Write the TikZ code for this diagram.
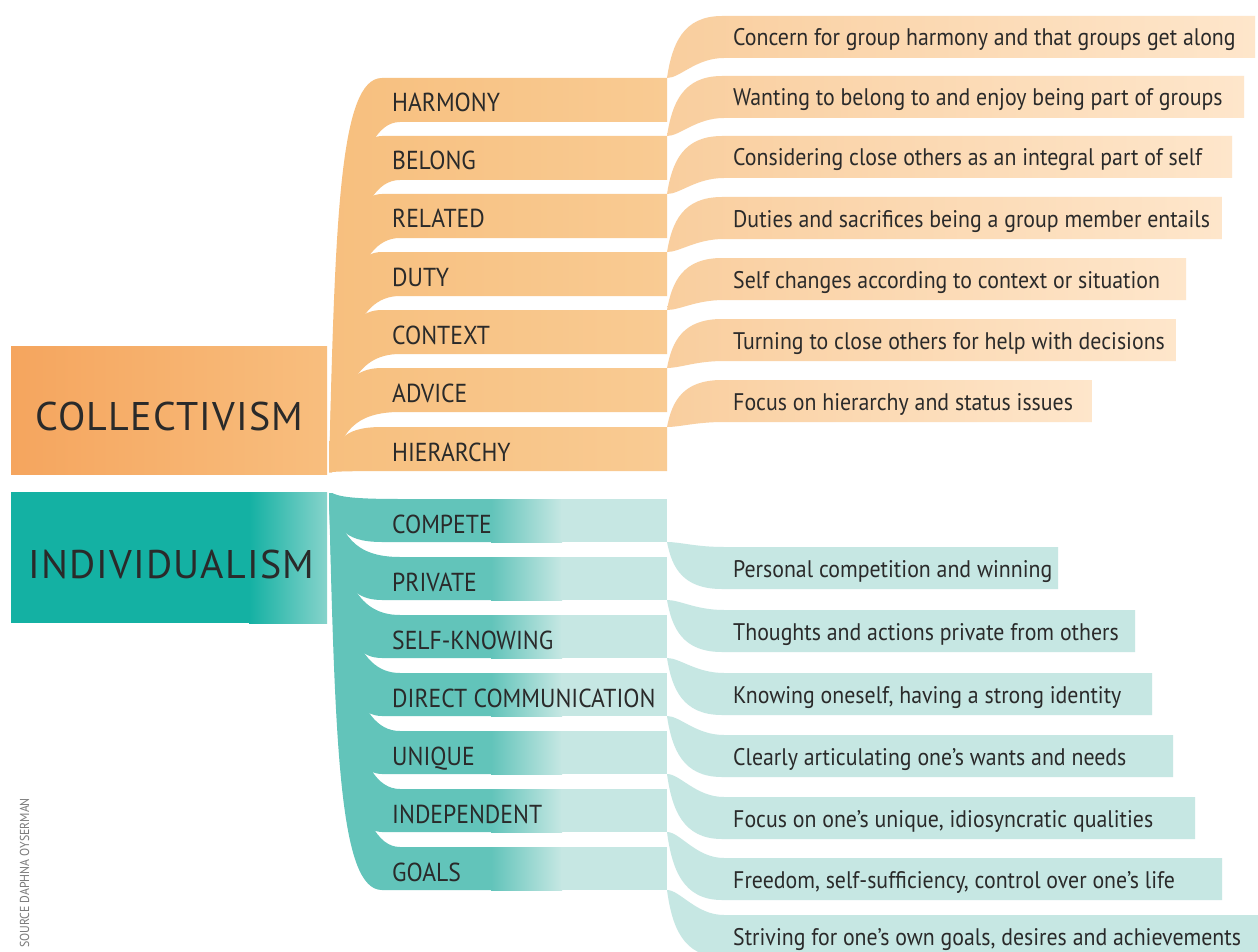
\documentclass[tikz,border=0pt]{standalone}
\usepackage{fontspec}
\setmainfont{PT Sans}[FakeStretch=0.91]
\newfontfamily\headfont{PT Sans}[LetterSpace=3]
\begin{document}
\begin{tikzpicture}[x=1pt,y=-1pt]
% colours
\definecolor{txt}{HTML}{2A2A2A}
\definecolor{srcgray}{HTML}{7A7A7A}
\definecolor{orMainL}{HTML}{F5A55E}
\definecolor{orMainR}{HTML}{F8BE7E}
\definecolor{orMidL}{HTML}{F7BF7E}
\definecolor{orMidR}{HTML}{F9CB93}
\definecolor{orDescL}{HTML}{F9CE9E}
\definecolor{orDescR}{HTML}{FEE6CB}
\definecolor{tlMainL}{HTML}{14B1A3}
\definecolor{tlMainR}{HTML}{86D3CB}
\definecolor{tlMid}{HTML}{62C4BA}
\definecolor{tlLight}{HTML}{C6E7E3}
\definecolor{tlDesc}{HTML}{C6E7E3}
\tikzset{
  mainlabel/.style={anchor=base west, inner sep=0pt, text=txt, font=\headfont\fontsize{40}{40}\selectfont},
  midlabel/.style={anchor=base west, inner sep=0pt, text=txt, font=\fontsize{26}{26}\selectfont},
  desclabel/.style={anchor=base west, inner sep=0pt, text=txt, font=\fontsize{24}{24}\selectfont},
  srclabel/.style={anchor=base, inner sep=0pt, text=srcgray, rotate=90, font=\fontsize{13}{13}\selectfont},
}
\useasboundingbox (0,0) rectangle (1258,952);
\fill[white] (0,0) rectangle (1258,952);

% ---------- collectivism branch: ribbons fan upward from the box corner ----------
% #1 band top, #2 description centre, #3 description right end, #4 id, #5 label, #6 description
\newcommand\orrow[6]{%
  \pgfmathsetmacro\bt{#1+44}%
  \pgfmathsetmacro\dt{#2-21}%
  \pgfmathsetmacro\db{#2+21}%
  \pgfmathsetmacro\ca{#1+0.35*(472-#1)}%
  \pgfmathsetmacro\cb{\bt+0.35*(472-\bt)}%
  \pgfmathsetmacro\cc{\dt+0.45*(#1-\dt)}%
  \shade[left color=orDescL, right color=orDescR]
    (667,#1) .. controls (672,\cc) and (683,\dt) .. (722,\dt) -- (#3,\dt)
    -- (#3,\db) -- (724,\db) .. controls (696,\db) and (680,#1) .. (667,#1) -- cycle;
  \shade[left color=orMidL, right color=orMidR]
    (329,472) .. controls (335,\ca) and (340,#1) .. (382,#1) -- (667,#1)
    -- (667,\bt) -- (400,\bt) .. controls (354,\bt) and (340,\cb) .. (332,472) -- cycle;
  \node[midlabel] (m#4) at (392,#1+34) {#5};
  \node[desclabel] (d#4) at (733,#2+9) {#6};
}

% ---------- individualism branch: ribbons fan downward from the box corner ----------
\newcommand\tlrow[6]{%
  \pgfmathsetmacro\bt{#1+43}%
  \pgfmathsetmacro\dt{#2-21}%
  \pgfmathsetmacro\db{#2+21}%
  \pgfmathsetmacro\ca{#1-0.35*(#1-493)}%
  \pgfmathsetmacro\cb{\bt-0.35*(\bt-493)}%
  \pgfmathsetmacro\cc{\db-0.45*(\db-\bt)}%
  \fill[tlDesc]
    (667,\bt) .. controls (680,\bt) and (696,\dt) .. (724,\dt) -- (#3,\dt)
    -- (#3,\db) -- (722,\db) .. controls (683,\db) and (672,\cc) .. (667,\bt) -- cycle;
  \fill[tlMid]
    (329,493) .. controls (335,\cb) and (340,\bt) .. (382,\bt) -- (492,\bt)
    -- (492,#1) -- (400,#1) .. controls (354,#1) and (340,\ca) .. (332,493) -- cycle;
  \shade[left color=tlMid, right color=tlLight] (491,#1) rectangle (562,\bt);
  \fill[tlLight] (561,#1) rectangle (667,\bt);
  \node[midlabel] (m#4) at (392,#1+34) {#5};
  \node[desclabel] (d#4) at (733,#2+9) {#6};
}

% main boxes
\shade[left color=orMainL, right color=orMainR] (11,346) rectangle (327,474);
\node[mainlabel] (coll) at (35,430) {COLLECTIVISM};
\fill[tlMainL] (11,492) rectangle (250,623);
\shade[left color=tlMainL, right color=tlMainR] (249,492) rectangle (327,623);
\node[mainlabel] (indiv) at (28,578) {INDIVIDUALISM};

\orrow{78}{37}{1255}{harmony}{HARMONY}{Concern for group harmony and that groups get along}
\orrow{136}{97}{1244}{belong}{BELONG}{Wanting to belong to and enjoy being part of groups}
\orrow{194}{157}{1232}{related}{RELATED}{Considering close others as an integral part of self}
\orrow{252}{218}{1222}{duty}{DUTY}{Duties and sacrifices being a group member entails}
\orrow{310}{279}{1186}{context}{CONTEXT}{Self changes according to context or situation}
\orrow{368}{340}{1176}{advice}{ADVICE}{Turning to close others for help with decisions}
\orrow{427}{401}{1092}{hierarchy}{HIERARCHY}{Focus on hierarchy and status issues}

\tlrow{499}{568}{1058}{compete}{COMPETE}{Personal competition and winning}
\tlrow{557}{631}{1135}{private}{PRIVATE}{Thoughts and actions private from others}
\tlrow{615}{694}{1152}{selfknowing}{SELF-KNOWING}{Knowing oneself, having a strong identity}
\tlrow{673}{756}{1173}{direct}{DIRECT COMMUNICATION}{Clearly articulating one’s wants and needs}
\tlrow{731}{818}{1195}{unique}{UNIQUE}{Focus on one’s unique, idiosyncratic qualities}
\tlrow{789}{879}{1222}{independent}{INDEPENDENT}{Freedom, self-sufficiency, control over one’s life}
\tlrow{847}{936}{1258}{goals}{GOALS}{Striving for one’s own goals, desires and achievements}

\node[srclabel] (src) at (29,873) {SOURCE DAPHNA OYSERMAN};
\end{tikzpicture}
\end{document}
